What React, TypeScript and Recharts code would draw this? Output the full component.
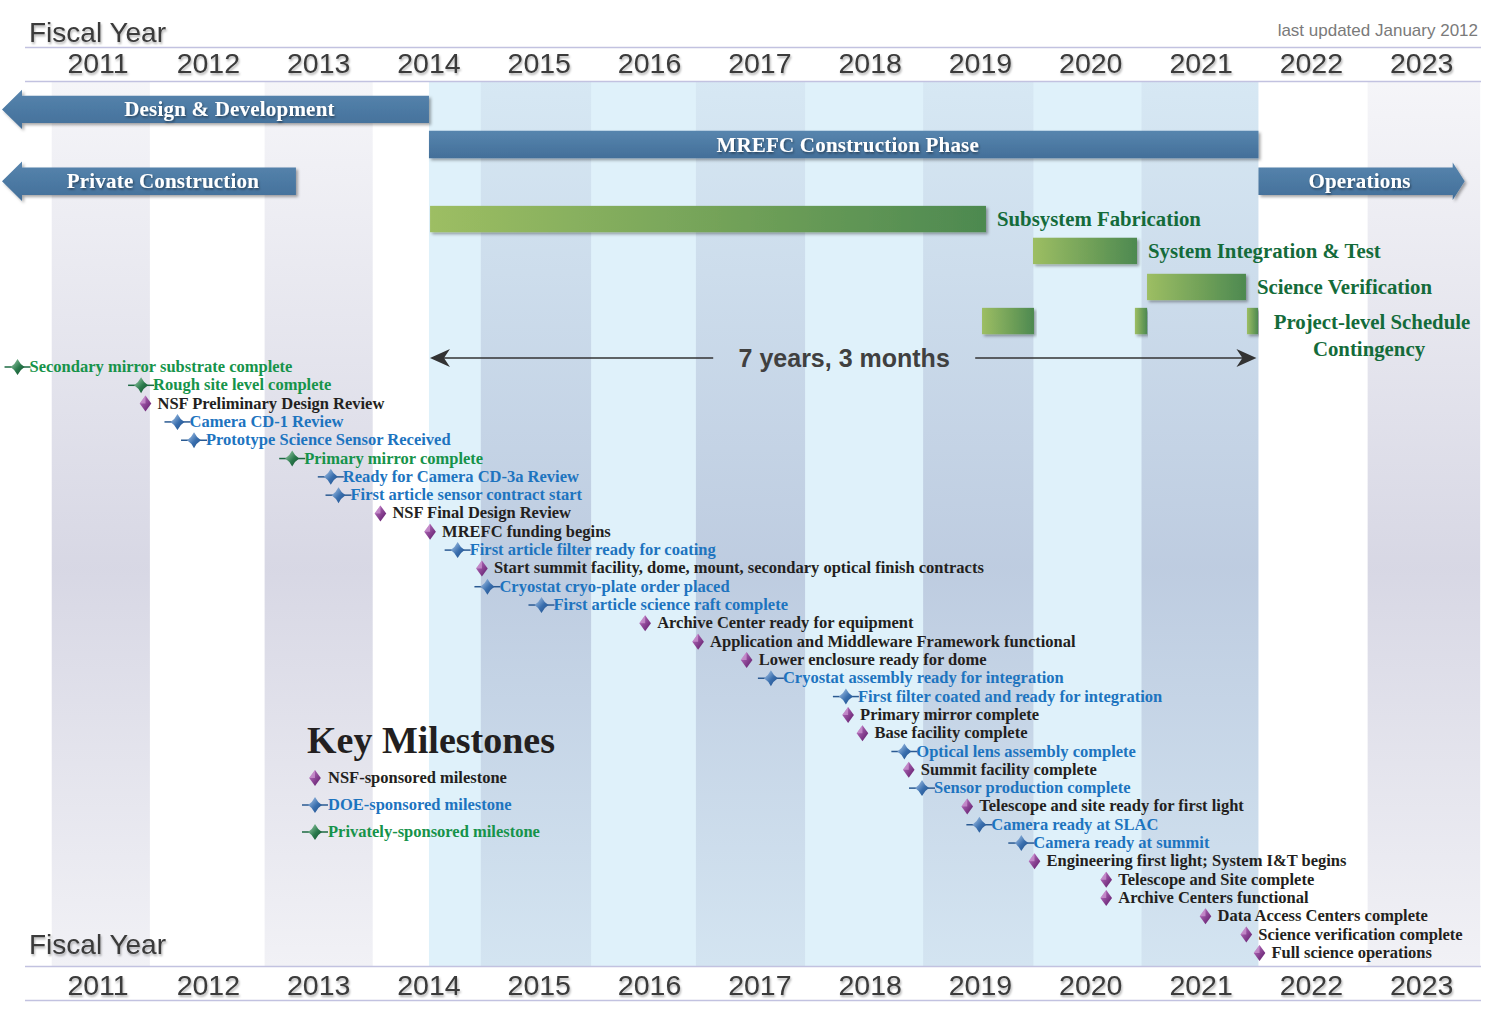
import React from 'react';
import { ComposedChart, XAxis, YAxis, Scatter, ReferenceArea, Legend } from 'recharts';

// ---------- data ----------
const YEARS = [2011, 2012, 2013, 2014, 2015, 2016, 2017, 2018, 2019, 2020, 2021, 2022, 2023];
const X_DOMAIN: [number, number] = [2010.111, 2023.71];
const LANE_DOMAIN: [number, number] = [-15.62, 32.715];

const CONSTRUCTION_START = 2014.0;
const CONSTRUCTION_END = 2021.52;

const BAND_STARTS = [2010.58, 2012.51, 2014.47, 2016.42, 2018.48, 2020.46, 2022.51];
const BAND_ENDS = [2011.47, 2013.49, 2015.47, 2017.41, 2019.48, 2021.52, 2023.53];

const PHASE_NAMES = ['Design & Development', 'MREFC Construction Phase', 'Private Construction', 'Operations'];
const PHASE_START = [2010.111, 2014.0, 2010.111, 2021.52];
const PHASE_END = [2014.0, 2021.52, 2012.794, 2023.39];
const PHASE_LANE = [-14.07, -12.15, -10.15, -10.15];
const PHASE_KIND = ['left', 'none', 'left', 'right'];

const ACT_LABELS = ['Subsystem Fabrication', 'System Integration & Test', 'Science Verification', '', '', 'Project-level Schedule|Contingency'];
const ACT_START = [2014.01, 2019.476, 2020.51, 2019.014, 2020.40, 2021.416];
const ACT_END = [2019.05, 2020.419, 2021.407, 2019.485, 2020.51, 2021.516];
const ACT_LANE = [-8.08, -6.34, -4.37, -2.51, -2.51, -2.51];

const SPAN_LABEL = '7 years, 3 months';
const SPAN_START = 2014.0;
const SPAN_END = 2021.52;
const SPAN_LANE = -0.49;

const MS_LABELS = [
  'Secondary mirror substrate complete',
  'Rough site level complete',
  'NSF Preliminary Design Review',
  'Camera CD-1 Review',
  'Prototype Science Sensor Received',
  'Primary mirror complete',
  'Ready for Camera CD-3a Review',
  'First article sensor contract start',
  'NSF Final Design Review',
  'MREFC funding begins',
  'First article filter ready for coating',
  'Start summit facility, dome, mount, secondary optical finish contracts',
  'Cryostat cryo-plate order placed',
  'First article science raft complete',
  'Archive Center ready for equipment',
  'Application and Middleware Framework functional',
  'Lower enclosure ready for dome',
  'Cryostat assembly ready for integration',
  'First filter coated and ready for integration',
  'Primary mirror complete',
  'Base facility complete',
  'Optical lens assembly complete',
  'Summit facility complete',
  'Sensor production complete',
  'Telescope and site ready for first light',
  'Camera ready at SLAC',
  'Camera ready at summit',
  'Engineering first light; System I&T begins',
  'Telescope and Site complete',
  'Archive Centers functional',
  'Data Access Centers complete',
  'Science verification complete',
  'Full science operations',
];
const MS_DATES = [
  2010.27, 2011.39, 2011.43, 2011.72, 2011.87, 2012.76, 2013.11, 2013.18, 2013.56, 2014.01, 2014.26,
  2014.48, 2014.53, 2015.02, 2015.96, 2016.44, 2016.88, 2017.10, 2017.78, 2017.80, 2017.93, 2018.31,
  2018.35, 2018.47, 2018.88, 2018.99, 2019.37, 2019.49, 2020.14, 2020.14, 2021.04, 2021.41, 2021.53,
];
const MS_SPONSOR = [
  'Private', 'Private', 'NSF', 'DOE', 'DOE', 'Private', 'DOE', 'DOE', 'NSF', 'NSF', 'DOE',
  'NSF', 'DOE', 'DOE', 'NSF', 'NSF', 'NSF', 'DOE', 'DOE', 'NSF', 'NSF', 'DOE',
  'NSF', 'DOE', 'NSF', 'DOE', 'DOE', 'NSF', 'NSF', 'NSF', 'NSF', 'NSF', 'NSF',
];

const LEGEND_TITLE = 'Key Milestones';
const LEGEND_SPONSORS = ['NSF', 'DOE', 'Private'];
const LEGEND_LABELS = ['NSF-sponsored milestone', 'DOE-sponsored milestone', 'Privately-sponsored milestone'];

const milestones = MS_LABELS.map((label, i) => ({ label, date: MS_DATES[i], lane: i, sponsor: MS_SPONSOR[i] }));

// ---------- styles ----------
const SERIF = '"Liberation Serif", "Times New Roman", serif';
const SANS = '"Liberation Sans", Arial, sans-serif';
const TEXT_COLOR: Record<string, string> = { NSF: '#231f20', DOE: '#1d74bf', Private: '#16934a' };
const LINE_COLOR: Record<string, string> = { DOE: '#2a5a92', Private: '#1c6a42' };
const GRAD_ID: Record<string, string> = { NSF: 'url(#nsfGrad)', DOE: 'url(#doeGrad)', Private: 'url(#privGrad)' };

const Marker = ({ x, y, sponsor }: { x: number; y: number; sponsor: string }) => {
  if (sponsor === 'NSF') {
    return (
      <g transform={`translate(${x},${y})`}>
        <polygon points="0,-8 5.8,0 0,8 -5.8,0" fill="url(#nsfGrad)" />
        <polygon points="0,-8 -5.8,0 0,0" fill="#d8a6dc" opacity={0.6} />
      </g>
    );
  }
  return (
    <g transform={`translate(${x},${y})`}>
      <line x1={-13} x2={13} y1={0} y2={0} stroke={LINE_COLOR[sponsor]} strokeWidth={1.5} />
      <path d="M0,-8 Q2.6,-2.6 7,0 Q2.6,2.6 0,8 Q-2.6,2.6 -7,0 Q-2.6,-2.6 0,-8 Z" fill={GRAD_ID[sponsor]} />
    </g>
  );
};

const MilestoneShape = (props: any) => {
  const { cx, cy, payload } = props;
  if (cx == null || cy == null) return <g />;
  return (
    <g>
      <Marker x={cx} y={cy} sponsor={payload.sponsor} />
      <text x={cx + 12} y={cy + 5} fill={TEXT_COLOR[payload.sponsor]} fontFamily={SERIF} fontSize={16.5}
        fontWeight={700}>
        {payload.label}
      </text>
    </g>
  );
};

const EmptyShape = () => <g />;

const phaseShape = (kind: string, name: string) => (p: any) => {
  const { x, y, width, height } = p;
  const midY = y + height / 2;
  let d = '';
  let bodyStart = x;
  let bodyEnd = x + width;
  if (kind === 'left') {
    const tip = x + 2;
    const head = 20;
    const flare = 6;
    d = `M${tip},${midY} L${tip + head},${y - flare} L${tip + head},${y} L${x + width},${y} L${x + width},${y + height} L${tip + head},${y + height} L${tip + head},${y + height + flare} Z`;
    bodyStart = tip + head;
  } else if (kind === 'right') {
    const tip = x + width;
    const head = 12;
    const flare = 5;
    d = `M${x},${y} L${tip - head},${y} L${tip - head},${y - flare} L${tip},${midY} L${tip - head},${y + height + flare} L${tip - head},${y + height} L${x},${y + height} Z`;
    bodyEnd = tip - head;
  } else {
    d = `M${x},${y} L${x + width},${y} L${x + width},${y + height} L${x},${y + height} Z`;
  }
  return (
    <g>
      <path d={d} fill="url(#blueBar)" filter="url(#barShadow)" />
      <text x={(bodyStart + bodyEnd) / 2 + 4} y={midY + 7} textAnchor="middle" fill="#ffffff" fontFamily={SERIF}
        fontSize={21} fontWeight={700} letterSpacing={0.2} filter="url(#whiteTextShadow)">
        {name}
      </text>
    </g>
  );
};

const activityShape = (label: string) => (p: any) => {
  const { x, y, width, height } = p;
  const midY = y + height / 2;
  const lines = label ? label.split('|') : [];
  return (
    <g>
      <rect x={x} y={y} width={width} height={height} fill="url(#greenBar)" filter="url(#barShadow)" />
      {lines.length === 1 && (
        <text x={x + width + 11} y={midY + 7} fill="#146b3a" fontFamily={SERIF} fontSize={20.8} fontWeight={700}>
          {lines[0]}
        </text>
      )}
      {lines.length === 2 && (
        <g>
          <text x={x + width + 114} y={midY + 8} textAnchor="middle" fill="#146b3a" fontFamily={SERIF} fontSize={20.8}
            fontWeight={700}>
            {lines[0]}
          </text>
          <text x={x + width + 111} y={midY + 35} textAnchor="middle" fill="#146b3a" fontFamily={SERIF} fontSize={20.8}
            fontWeight={700}>
            {lines[1]}
          </text>
        </g>
      )}
    </g>
  );
};

const spanShape = (label: string) => (p: any) => {
  const { x, y, width, height } = p;
  const cy = y + height / 2;
  const left = x + 1;
  const right = x + width - 2;
  const mid = (left + right) / 2;
  return (
    <g>
      <line x1={left + 10} x2={mid - 130} y1={cy} y2={cy} stroke="#333" strokeWidth={1.6} />
      <line x1={mid + 132} x2={right - 10} y1={cy} y2={cy} stroke="#333" strokeWidth={1.6} />
      <path d={`M${left},${cy} L${left + 20},${cy - 9} L${left + 14},${cy} L${left + 20},${cy + 9} Z`} fill="#333" />
      <path d={`M${right},${cy} L${right - 20},${cy - 9} L${right - 14},${cy} L${right - 20},${cy + 9} Z`} fill="#333" />
      <text x={mid + 1} y={cy + 9} textAnchor="middle" fill="#404040" fontFamily={SANS} fontSize={25} fontWeight={700}>
        {label}
      </text>
    </g>
  );
};

const TopTick = (props: any) => {
  const { x, y, payload } = props;
  return (
    <text x={x} y={y} textAnchor="middle" fill="#3a3a3a" fontFamily={SANS} fontSize={28.5} filter="url(#yearShadow)">
      {payload.value}
    </text>
  );
};

const BottomTick = (props: any) => {
  const { x, y, payload } = props;
  return (
    <text x={x} y={y + 21} textAnchor="middle" fill="#3a3a3a" fontFamily={SANS} fontSize={28.5} filter="url(#yearShadow)">
      {payload.value}
    </text>
  );
};

const LegendBox = () => (
  <svg width={320} height={140} style={{ display: 'block', overflow: 'visible' }}>
    <text x={7} y={41} fill="#231f20" fontFamily={SERIF} fontSize={38} fontWeight={700}>
      {LEGEND_TITLE}
    </text>
    {LEGEND_SPONSORS.map((s, i) => (
      <g key={s}>
        <Marker x={15} y={66 + i * 27} sponsor={s} />
        <text x={28} y={71 + i * 27} fill={TEXT_COLOR[s]} fontFamily={SERIF} fontSize={16.5} fontWeight={700}>
          {LEGEND_LABELS[i]}
        </text>
      </g>
    ))}
  </svg>
);

const Defs = () => (
  <svg width={0} height={0} style={{ position: 'absolute', left: 0, top: 0 }}>
    <defs>
      <linearGradient id="bandGrad" x1="0" y1="0" x2="0" y2="1">
        <stop offset="0%" stopColor="#39397a" stopOpacity={0.05} />
        <stop offset="55%" stopColor="#39397a" stopOpacity={0.2} />
        <stop offset="100%" stopColor="#39397a" stopOpacity={0.07} />
      </linearGradient>
      <linearGradient id="blueBar" x1="0" y1="0" x2="0" y2="1">
        <stop offset="0%" stopColor="#5785ae" />
        <stop offset="100%" stopColor="#436f99" />
      </linearGradient>
      <linearGradient id="greenBar" x1="0" y1="0" x2="1" y2="0">
        <stop offset="0%" stopColor="#9dbe63" />
        <stop offset="100%" stopColor="#4d8950" />
      </linearGradient>
      <linearGradient id="nsfGrad" x1="0" y1="0" x2="1" y2="1">
        <stop offset="0%" stopColor="#c27ac9" />
        <stop offset="100%" stopColor="#5a1565" />
      </linearGradient>
      <linearGradient id="doeGrad" x1="0" y1="0" x2="1" y2="1">
        <stop offset="0%" stopColor="#b5d0ef" />
        <stop offset="55%" stopColor="#3a6fae" />
        <stop offset="100%" stopColor="#1c4c88" />
      </linearGradient>
      <linearGradient id="privGrad" x1="0" y1="0" x2="1" y2="1">
        <stop offset="0%" stopColor="#a8d6b6" />
        <stop offset="55%" stopColor="#2a7a4c" />
        <stop offset="100%" stopColor="#0f4a2a" />
      </linearGradient>
      <filter id="barShadow" x="-5%" y="-30%" width="110%" height="170%">
        <feDropShadow dx={2} dy={2} stdDeviation={1.5} floodColor="#000" floodOpacity={0.35} />
      </filter>
      <filter id="whiteTextShadow" x="-5%" y="-30%" width="110%" height="170%">
        <feDropShadow dx={1} dy={1.5} stdDeviation={1} floodColor="#000" floodOpacity={0.45} />
      </filter>
      <filter id="yearShadow" x="-10%" y="-30%" width="120%" height="170%">
        <feDropShadow dx={1} dy={2} stdDeviation={1.3} floodColor="#000" floodOpacity={0.3} />
      </filter>
    </defs>
  </svg>
);

const Overlay = () => (
  <svg width={1500} height={1016} style={{ position: 'absolute', left: 0, top: 0, pointerEvents: 'none' }}>
    <text x={29} y={42} fill="#3a3a3a" fontFamily={SANS} fontSize={28} filter="url(#yearShadow)">Fiscal Year</text>
    <text x={29} y={954} fill="#3a3a3a" fontFamily={SANS} fontSize={28} filter="url(#yearShadow)">Fiscal Year</text>
    <text x={1478} y={36} textAnchor="end" fill="#7a7a7a" fontFamily={SANS} fontSize={17}>last updated January 2012</text>
    <line x1={25} x2={1481} y1={47.5} y2={47.5} stroke="#c2c2e0" strokeWidth={1.5} />
    <line x1={25} x2={1481} y1={81.5} y2={81.5} stroke="#c2c2e0" strokeWidth={1.5} />
    <line x1={25} x2={1481} y1={966.5} y2={966.5} stroke="#c2c2e0" strokeWidth={1.5} />
    <line x1={25} x2={1481} y1={1000.5} y2={1000.5} stroke="#c2c2e0" strokeWidth={1.5} />
  </svg>
);

export default function App() {
  return (
    <div style={{ position: 'absolute', left: 0, top: 0, width: 1500, height: 1016, background: '#ffffff', overflow: 'hidden' }}>
      <Defs />
      <ComposedChart width={1500} height={1016} margin={{ top: 0, right: 0, bottom: 0, left: 0 }}>
        <XAxis dataKey="date" type="number" orientation="top" domain={X_DOMAIN} allowDataOverflow ticks={YEARS}
          height={81} axisLine={false} tickLine={false} tickSize={0} tickMargin={8} tick={<TopTick />} interval={0} />
        <XAxis xAxisId="bottom" dataKey="date" type="number" orientation="bottom" domain={X_DOMAIN} allowDataOverflow
          ticks={YEARS} height={50} axisLine={false} tickLine={false} tickSize={0} tickMargin={8} tick={<BottomTick />}
          interval={0} />
        <YAxis dataKey="lane" type="number" domain={LANE_DOMAIN} allowDataOverflow reversed hide />

        <ReferenceArea x1={CONSTRUCTION_START} x2={CONSTRUCTION_END} fill="#dff1fa" fillOpacity={1} stroke="none" />
        {BAND_STARTS.map((s, i) => (
          <ReferenceArea key={`band-${i}`} x1={s} x2={BAND_ENDS[i]} fill="url(#bandGrad)" fillOpacity={1} stroke="none" />
        ))}

        {PHASE_NAMES.map((n, i) => (
          <ReferenceArea key={`phase-${i}`} x1={PHASE_START[i]} x2={PHASE_END[i]} y1={PHASE_LANE[i] - 0.75}
            y2={PHASE_LANE[i] + 0.75} shape={phaseShape(PHASE_KIND[i], n)} />
        ))}

        {ACT_LABELS.map((n, i) => (
          <ReferenceArea key={`act-${i}`} x1={ACT_START[i]} x2={ACT_END[i]} y1={ACT_LANE[i] - 0.72}
            y2={ACT_LANE[i] + 0.72} shape={activityShape(n)} />
        ))}

        <ReferenceArea x1={SPAN_START} x2={SPAN_END} y1={SPAN_LANE - 0.5} y2={SPAN_LANE + 0.5} shape={spanShape(SPAN_LABEL)} />

        <Scatter xAxisId="bottom" data={milestones} dataKey="lane" shape={EmptyShape} legendType="none"
          isAnimationActive={false} />
        <Scatter data={milestones} dataKey="lane" shape={MilestoneShape} isAnimationActive={false} />

        <Legend layout="vertical" align="center" verticalAlign="middle" content={() => <LegendBox />}
          wrapperStyle={{ position: 'absolute', left: 300, top: 712, width: 320, height: 140 }} />
      </ComposedChart>
      <Overlay />
    </div>
  );
}
